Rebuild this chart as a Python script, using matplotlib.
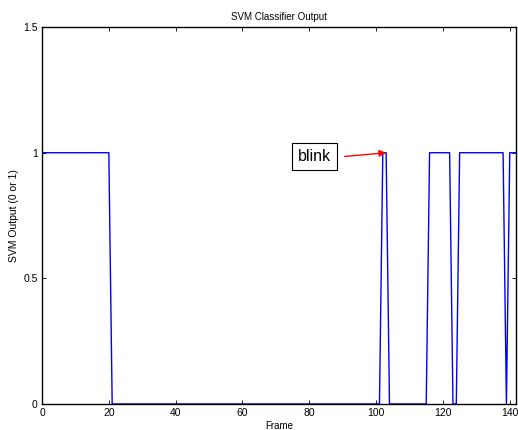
import numpy as np
import matplotlib
matplotlib.use("Agg")
import matplotlib.pyplot as plt

plt.rcParams['font.family'] = ['Liberation Sans', 'DejaVu Sans']

# SVM output per frame (0..142)
frames = np.arange(0, 143)
ones_ranges = [(0, 20), (102, 103), (116, 122), (125, 138), (140, 142)]
svm_out = np.zeros(len(frames))
for a, b in ones_ranges:
    svm_out[a:b + 1] = 1

x_ticks = [0, 20, 40, 60, 80, 100, 120, 140]
y_ticks = [0, 0.5, 1, 1.5]
y_tick_labels = ["0", "0.5", "1", "1.5"]

fig = plt.figure(figsize=(5.18, 4.30), dpi=100)
ax = fig.add_axes([0.0811, 0.0605, 0.9159, 0.8765])

ax.plot(frames, svm_out, color='#0000ff', lw=1.0)

ax.set_xlim(0, 142)
ax.set_ylim(0, 1.5)
ax.set_xticks(x_ticks)
ax.set_yticks(y_ticks)
ax.set_yticklabels(y_tick_labels)
ax.tick_params(direction='in', top=True, right=True, labelsize=7.5, length=3, width=0.6, pad=3)
for s in ax.spines.values():
    s.set_linewidth(1.0)

ax.set_title("SVM Classifier Output", fontsize=7, pad=5)
ax.set_xlabel("Frame", fontsize=7, labelpad=2)
ax.set_ylabel("SVM Output (0 or 1)", fontsize=7.5, labelpad=3)

# blink annotation
ax.text(81.6, 0.985, "blink", fontsize=11.5, ha='center', va='center',
        bbox=dict(boxstyle='square,pad=0.35', fc='white', ec='black', lw=0.8))
ax.annotate('', xy=(103, 1.0), xytext=(90.6, 0.985),
            arrowprops=dict(arrowstyle='-|>', color='red', lw=1.0,
                            mutation_scale=10, shrinkA=0, shrinkB=0))

fig.savefig("out.png", dpi=100)
